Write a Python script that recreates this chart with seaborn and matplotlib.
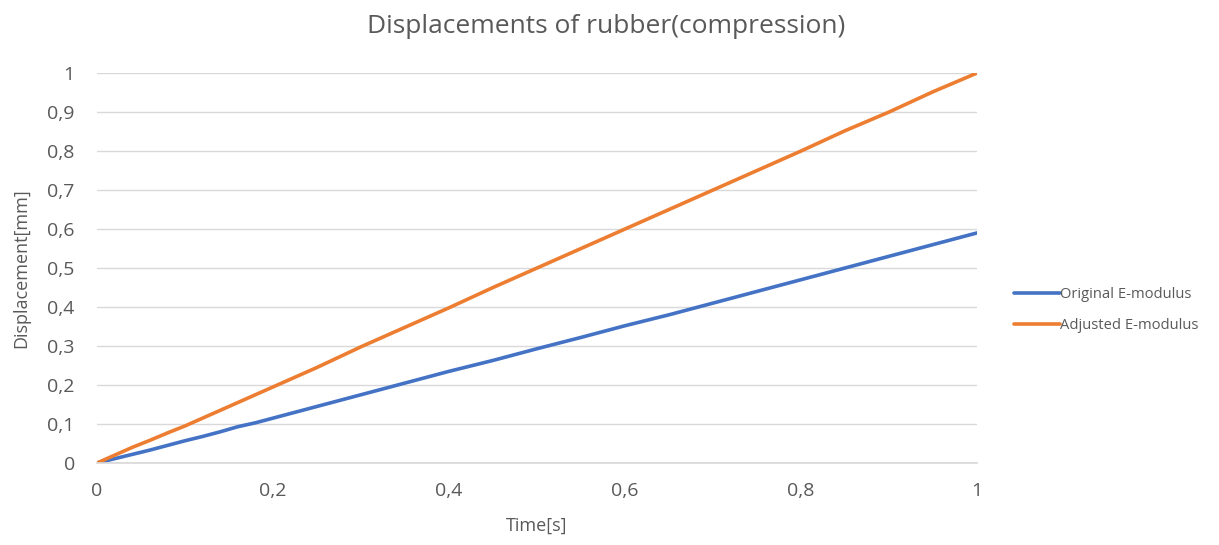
import matplotlib
matplotlib.use("Agg")
import matplotlib.pyplot as plt
import seaborn as sns
import pandas as pd
from matplotlib.ticker import FuncFormatter

time_s = [0.0, 0.02, 0.04, 0.06, 0.08, 0.10, 0.12, 0.14, 0.16, 0.18, 0.20,
          0.25, 0.30, 0.35, 0.40, 0.45, 0.50, 0.55, 0.60, 0.65, 0.70,
          0.75, 0.80, 0.85, 0.90, 0.95, 1.00]
original = [0.0, 0.011, 0.022, 0.033, 0.045, 0.057, 0.068, 0.080, 0.093, 0.103, 0.115,
            0.145, 0.175, 0.205, 0.235, 0.263, 0.293, 0.322, 0.352, 0.380, 0.410,
            0.440, 0.470, 0.500, 0.530, 0.560, 0.590]
adjusted = [0.0, 0.020, 0.040, 0.058, 0.077, 0.095, 0.115, 0.135, 0.155, 0.175, 0.195,
            0.245, 0.298, 0.348, 0.398, 0.450, 0.500, 0.550, 0.600, 0.650, 0.700,
            0.750, 0.800, 0.852, 0.900, 0.952, 1.000]
series_names = ["Original E-modulus", "Adjusted E-modulus"]
colors = ["#4472C4", "#ED7D31"]

df = pd.concat([
    pd.DataFrame({"Time": time_s, "Displacement": original, "Series": series_names[0]}),
    pd.DataFrame({"Time": time_s, "Displacement": adjusted, "Series": series_names[1]}),
])

sns.set_theme(style="white")
plt.rcParams['font.family'] = ['Open Sans', 'DejaVu Sans']
txt = "#595959"

fig = plt.figure(figsize=(12.19, 5.45), dpi=100)
ax = fig.add_axes([0.0796, 0.1505, 0.8015 - 0.0796, 0.866 - 0.1505])
sns.lineplot(data=df, x="Time", y="Displacement", hue="Series", palette=colors,
             linewidth=2.6, ax=ax, legend=True)

ax.set_xlim(0, 1)
ax.set_ylim(0, 1)
ax.set_xticks([0, 0.2, 0.4, 0.6, 0.8, 1.0])
ax.set_yticks([i / 10 for i in range(11)])
fmt = FuncFormatter(lambda v, p: ("%g" % round(v, 2)).replace(".", ","))
ax.xaxis.set_major_formatter(fmt)
ax.yaxis.set_major_formatter(fmt)
ax.tick_params(axis="both", colors=txt, labelsize=14, length=0)
ax.tick_params(axis="x", pad=14)
ax.tick_params(axis="y", pad=16)
ax.grid(axis="y", color="#D9D9D9", linewidth=1)
ax.grid(axis="x", visible=False)
for s in ["top", "right", "left"]:
    ax.spines[s].set_visible(False)
ax.spines["bottom"].set_color("#D9D9D9")
ax.set_axisbelow(True)

ax.set_xlabel("Time[s]", color=txt, fontsize=13, labelpad=12)
ax.set_ylabel("Displacement[mm]", color=txt, fontsize=13, labelpad=12)
fig.text(0.497, 0.952, "Displacements of rubber(compression)", ha="center", va="center",
         color=txt, fontsize=19)

handles, labels = ax.get_legend_handles_labels()
ax.get_legend().remove()
leg = fig.legend(handles, labels, loc="center left",
                 bbox_to_anchor=(1008 / 1219, 1 - 310 / 545), frameon=False,
                 fontsize=10.6, handlelength=3.1, handletextpad=0.0, labelspacing=1.1,
                 borderaxespad=0.0)
for t in leg.get_texts():
    t.set_color(txt)

fig.savefig("out.png", dpi=100)
